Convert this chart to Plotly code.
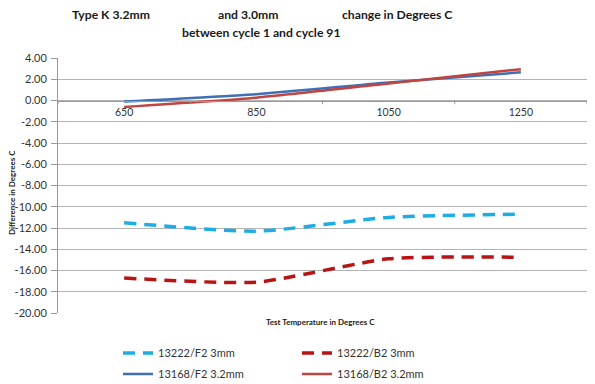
import plotly.graph_objects as go

categories = ["650", "850", "1050", "1250"]
f2_3mm = [-11.5, -12.3, -11.0, -10.7]
b2_3mm = [-16.7, -17.1, -14.9, -14.75]
f2_32mm = [-0.1, 0.6, 1.7, 2.65]
b2_32mm = [-0.6, 0.27, 1.6, 2.95]
names = ["13222/F2 3mm", "13222/B2 3mm", "13168/F2 3.2mm", "13168/B2 3.2mm"]
ytickvals = [4, 2, 0, -2, -4, -6, -8, -10, -12, -14, -16, -18, -20]
yticktext = ["4.00", "2.00", "0.00", "-2.00", "-4.00", "-6.00", "-8.00", "-10.00",
             "-12.00", "-14.00", "-16.00", "-18.00", "-20.00"]

FONT = "Lato, 'Open Sans', sans-serif"
xs = list(range(len(categories)))

fig = go.Figure()
fig.add_trace(go.Scatter(x=xs, y=f2_3mm, name=names[0], mode="lines",
                         line=dict(color="#1DADE4", width=3.5, dash="12px,8px",
                                   shape="spline", smoothing=0.6),
                         legend="legend"))
fig.add_trace(go.Scatter(x=xs, y=b2_3mm, name=names[1], mode="lines",
                         line=dict(color="#B81414", width=3.5, dash="12px,8px",
                                   shape="spline", smoothing=0.6),
                         legend="legend"))
fig.add_trace(go.Scatter(x=xs, y=f2_32mm, name=names[2], mode="lines",
                         line=dict(color="#3F6FB5", width=2.5, shape="spline", smoothing=0.6),
                         legend="legend2"))
fig.add_trace(go.Scatter(x=xs, y=b2_32mm, name=names[3], mode="lines",
                         line=dict(color="#C0443F", width=2.5, shape="spline", smoothing=0.6),
                         legend="legend2"))

# page body has an 8px margin; work in screenshot pixels and offset
OFF = 8
W, H = 595 - OFF, 384 - OFF
PL, PR, PT, PB = 58, 587, 58, 313  # plot area in screenshot pixels
L = PL - OFF
T = PT - OFF
R = W - (PR - OFF)
B = H - (PB - OFF)
ph = PB - PT
pw = PR - PL

def py(pix):
    return (PB - pix) / ph

def px(pix):
    return (pix - PL) / pw

legend_common = dict(orientation="h", xanchor="left", yanchor="middle",
                     font=dict(family=FONT, size=11, color="#333333"),
                     entrywidth=134, entrywidthmode="pixels",
                     bgcolor="rgba(0,0,0,0)", traceorder="normal")

fig.update_layout(
    width=W, height=H,
    margin=dict(l=L, r=R, t=T, b=B, autoexpand=False),
    paper_bgcolor="white", plot_bgcolor="white",
    font=dict(family=FONT, size=10, color="#333333"),
    xaxis=dict(
        range=[-0.5, 3.5],
        tickvals=xs, ticktext=categories,
        anchor="free", position=0.8333,
        showline=True, linecolor="#9a9a9a", linewidth=1,
        showgrid=False, zeroline=False,
        ticks="", tickfont=dict(family=FONT, size=10.5, color="#333333"),
        ticklabelstandoff=2,
    ),
    yaxis=dict(
        range=[-20, 4],
        tickvals=ytickvals, ticktext=yticktext,
        showline=True, linecolor="#9a9a9a", linewidth=1,
        showgrid=True, gridcolor="#b4b4b4", gridwidth=1,
        zeroline=False,
        ticks="outside", ticklen=6, tickcolor="#9a9a9a",
        ticklabelstandoff=2,
        tickfont=dict(family=FONT, size=11, color="#333333"),
    ),
    showlegend=True,
    legend=dict(x=px(118), y=py(353), **legend_common),
    legend2=dict(x=px(118), y=py(374), **legend_common),
)

# category boundary tick marks on the x axis line
for xb in [-0.5, 0.5, 1.5, 2.5, 3.5]:
    fig.add_shape(type="line", xref="x", yref="y", x0=xb, x1=xb, y0=0, y1=-0.35,
                  line=dict(color="#9a9a9a", width=1))

title_font = dict(family=FONT, size=12.2, color="#1a1a1a")
for txt, x0, y0 in [("Type K 3.2mm", 70, 15), ("and 3.0mm", 216, 15),
                    ("change in Degrees C", 340, 15),
                    ("between cycle 1 and cycle 91", 180, 33)]:
    fig.add_annotation(text="<b>" + txt + "</b>", xref="paper", yref="paper",
                       x=px(x0), y=py(y0), xanchor="left", yanchor="middle",
                       showarrow=False, font=title_font)

fig.add_annotation(text="<b>Test Temperature in Degrees C</b>", xref="paper", yref="paper",
                   x=px(320), y=py(322), xanchor="center", yanchor="middle",
                   showarrow=False, font=dict(family=FONT, size=8, color="#1a1a1a"))
fig.add_annotation(text="<b>Difference in Degrees C</b>", xref="paper", yref="paper",
                   x=px(12), y=py(193), xanchor="center", yanchor="middle",
                   textangle=-90, showarrow=False,
                   font=dict(family=FONT, size=8, color="#1a1a1a"))

fig.write_html("out.html")
